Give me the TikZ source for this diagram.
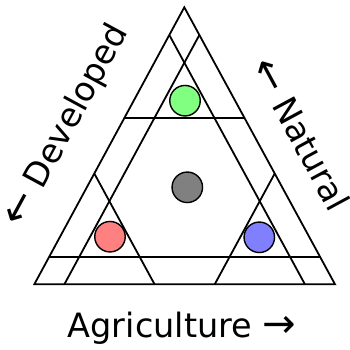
\documentclass[tikz,border=0pt]{standalone}
\usepackage{fontspec}
\setmainfont{DejaVu Sans}
\usetikzlibrary{calc}
\definecolor{dotgreen}{HTML}{80FF80}
\definecolor{dotgray}{HTML}{808080}
\definecolor{dotred}{HTML}{FF8080}
\definecolor{dotblue}{HTML}{8080FF}
\newcommand{\bigarr}[1]{{\fontsize{40}{40}\selectfont #1}}
\begin{document}
\begin{tikzpicture}[x=1pt,y=-1pt,
  edge/.style={draw=black,line width=1.8pt,line join=miter},
  dot/.style={circle,draw=black,line width=1.4pt,minimum size=30.5pt,inner sep=0pt},
  lbl/.style={font=\fontsize{33.5}{36}\selectfont,inner sep=0pt}]
\useasboundingbox (0,0) rectangle (350,350);
\coordinate (A) at (184.3,7.3);
\coordinate (L) at (34.3,284.3);
\coordinate (R) at (335,284.3);
% outer triangle
\draw[edge] (A) -- (L) -- (R) -- cycle;
% lines of constant weight
\coordinate (a1l) at ($(A)!0.9!(L)$); \coordinate (a1r) at ($(A)!0.9!(R)$);
\coordinate (a6l) at ($(A)!0.4!(L)$); \coordinate (a6r) at ($(A)!0.4!(R)$);
\coordinate (l1a) at ($(L)!0.9!(A)$); \coordinate (l1r) at ($(L)!0.9!(R)$);
\coordinate (l6a) at ($(L)!0.4!(A)$); \coordinate (l6r) at ($(L)!0.4!(R)$);
\coordinate (r1a) at ($(R)!0.9!(A)$); \coordinate (r1l) at ($(R)!0.9!(L)$);
\coordinate (r6a) at ($(R)!0.4!(A)$); \coordinate (r6l) at ($(R)!0.4!(L)$);
\draw[edge] (a1l) -- (a1r);
\draw[edge] (a6l) -- (a6r);
\draw[edge] (l1a) -- (l1r);
\draw[edge] (l6a) -- (l6r);
\draw[edge] (r1a) -- (r1l);
\draw[edge] (r6a) -- (r6l);
% dots
\node[dot,fill=dotgreen] (g) at (185,100.7) {};
\node[dot,fill=dotgray] (c) at (187.3,187.3) {};
\node[dot,fill=dotred] (r) at (110,236.7) {};
\node[dot,fill=dotblue] (b) at (259.3,237.3) {};
% labels
\node[lbl] (agr) at (182,328) {Agriculture \bigarr{→}};
\node[lbl,rotate=61.6] (dev) at (67,126) {\bigarr{←} Developed};
\node[lbl,rotate=-61.6] (nat) at (301,134) {\bigarr{←} Natural};
\end{tikzpicture}
\end{document}
